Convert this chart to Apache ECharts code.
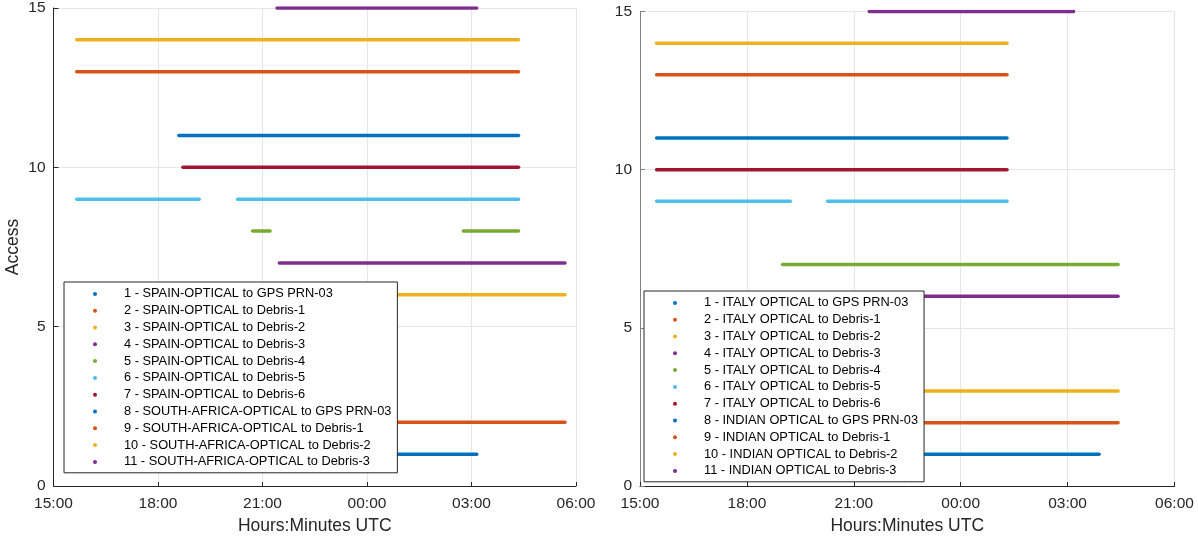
<!DOCTYPE html>
<html>
<head>
<meta charset="utf-8">
<script src="https://cdn.jsdelivr.net/npm/echarts@6/dist/echarts.min.js"></script>
<style>
  html, body { margin: 0; padding: 0; background: #fff; }
  #chart { width: 1198px; height: 540px; }
</style>
</head>
<body>
<div id="chart"></div>
<script>
// Access windows (UTC, start/end) for each station-to-object link, with the access level they are plotted at.
const leftNames = [
  '1 - SPAIN-OPTICAL to GPS PRN-03',
  '2 - SPAIN-OPTICAL to Debris-1',
  '3 - SPAIN-OPTICAL to Debris-2',
  '4 - SPAIN-OPTICAL to Debris-3',
  '5 - SPAIN-OPTICAL to Debris-4',
  '6 - SPAIN-OPTICAL to Debris-5',
  '7 - SPAIN-OPTICAL to Debris-6',
  '8 - SOUTH-AFRICA-OPTICAL to GPS PRN-03',
  '9 - SOUTH-AFRICA-OPTICAL to Debris-1',
  '10 - SOUTH-AFRICA-OPTICAL to Debris-2',
  '11 - SOUTH-AFRICA-OPTICAL to Debris-3'
];
const leftLevels = [11, 13, 14, 15, 8, 9, 10, 1, 2, 6, 7];
const leftWindows = [
  [['18:36', '04:21']],
  [['15:40', '04:21']],
  [['15:40', '04:21']],
  [['21:25', '03:09']],
  [['20:43', '21:13'], ['02:46', '04:21']],
  [['15:40', '19:11'], ['20:17', '04:21']],
  [['18:43', '04:21']],
  [['21:25', '03:09']],
  [['21:29', '05:41']],
  [['21:29', '05:41']],
  [['21:29', '05:41']]
];

const rightNames = [
  '1 - ITALY OPTICAL to GPS PRN-03',
  '2 - ITALY OPTICAL to Debris-1',
  '3 - ITALY OPTICAL to Debris-2',
  '4 - ITALY OPTICAL to Debris-3',
  '5 - ITALY OPTICAL to Debris-4',
  '6 - ITALY OPTICAL to Debris-5',
  '7 - ITALY OPTICAL to Debris-6',
  '8 - INDIAN OPTICAL to GPS PRN-03',
  '9 - INDIAN OPTICAL to Debris-1',
  '10 - INDIAN OPTICAL to Debris-2',
  '11 - INDIAN OPTICAL to Debris-3'
];
const rightLevels = [11, 13, 14, 15, 7, 9, 10, 1, 2, 3, 6];
const rightWindows = [
  [['15:28', '01:18']],
  [['15:28', '01:18']],
  [['15:28', '01:18']],
  [['21:26', '03:10']],
  [['19:00', '04:25']],
  [['15:28', '19:13'], ['20:16', '01:18']],
  [['15:28', '01:18']],
  [['21:26', '03:53']],
  [['19:00', '04:25']],
  [['19:00', '04:25']],
  [['21:26', '04:25']]
];

const xTickLabels = ['15:00', '18:00', '21:00', '00:00', '03:00', '06:00'];
const yTicks = [0, 5, 10, 15];

const palette = ['#0072BD', '#D95319', '#EDB120', '#7E2F8E', '#77AC30', '#4DBEEE', '#A2142F'];
const FONT = '"Liberation Sans", Arial, Helvetica, sans-serif';
const TEXT = '#262626';

// x axis runs in minutes after 15:00 UTC, through midnight to 06:00
function toMinutes(hhmm) {
  const [h, m] = hhmm.split(':').map(Number);
  let t = h * 60 + m - 15 * 60;
  if (t < 0) t += 24 * 60;
  return t;
}

function buildSeries(names, levels, windows, axisIndex) {
  return names.map((name, i) => {
    const data = [];
    windows[i].forEach((w, k) => {
      if (k > 0) data.push(['-', '-']);
      data.push([toMinutes(w[0]), levels[i]]);
      data.push([toMinutes(w[1]), levels[i]]);
    });
    return {
      name: name,
      type: 'line',
      xAxisIndex: axisIndex,
      yAxisIndex: axisIndex,
      data: data,
      showSymbol: false,
      symbol: 'none',
      connectNulls: false,
      color: palette[i % palette.length],
      lineStyle: { width: 3.5, cap: 'round', color: palette[i % palette.length] },
      emphasis: { disabled: true },
      animation: false,
      z: 2
    };
  });
}

function xAxis(gridIndex) {
  return {
    type: 'value', gridIndex: gridIndex, min: 0, max: 900, interval: 180,
    name: 'Hours:Minutes UTC', nameLocation: 'middle', nameGap: 31,
    nameTextStyle: { fontFamily: FONT, fontSize: 17.5, color: TEXT },
    axisLine: { show: true, onZero: false, lineStyle: { color: TEXT, width: 1 } },
    axisTick: { show: true, inside: true, length: 4, lineStyle: { color: TEXT } },
    axisLabel: {
      fontFamily: FONT, fontSize: 15.5, color: TEXT, margin: 10,
      formatter: v => xTickLabels[Math.round(v / 180)]
    },
    splitLine: { show: true, lineStyle: { color: '#e6e6e6', width: 1 } }
  };
}

function yAxis(gridIndex, title, lineColor) {
  return {
    type: 'value', gridIndex: gridIndex, min: 0, max: 15, interval: 5,
    name: title, nameLocation: 'middle', nameGap: 31, nameRotate: 90,
    nameTextStyle: { fontFamily: FONT, fontSize: 17.5, color: TEXT },
    axisLine: { show: true, onZero: false, lineStyle: { color: lineColor, width: 1 } },
    axisTick: { show: true, inside: true, length: 5, lineStyle: { color: lineColor } },
    axisLabel: {
      fontFamily: FONT, fontSize: 15.5, color: TEXT, margin: 8,
      formatter: v => (yTicks.indexOf(v) >= 0 ? String(v) : '')
    },
    splitLine: { show: true, lineStyle: { color: '#e6e6e6', width: 1 } }
  };
}

function legend(names, left, top) {
  return {
    data: names,
    orient: 'vertical',
    left: left, top: top,
    icon: 'circle',
    itemWidth: 4, itemHeight: 4,
    itemGap: 3,
    padding: [5, 6, 4, 29],
    backgroundColor: '#ffffff',
    borderColor: TEXT,
    borderWidth: 1,
    borderRadius: 0,
    selectedMode: false,
    textStyle: {
      fontFamily: FONT, fontSize: 12.8, color: '#000', lineHeight: 13.8,
      padding: [0, 0, 0, 22]
    },
    z: 10
  };
}

const chart = echarts.init(document.getElementById('chart'), null, { renderer: 'canvas' });
chart.setOption({
  animation: false,
  backgroundColor: '#ffffff',
  grid: [
    { left: 53.5, right: 622, top: 7.5, bottom: 54, containLabel: false },
    { left: 640, right: 23.5, top: 11.5, bottom: 53.5, containLabel: false }
  ],
  xAxis: [xAxis(0), xAxis(1)],
  yAxis: [yAxis(0, 'Access', TEXT), yAxis(1, '', '#7f7f7f')],
  legend: [legend(leftNames, 64, 282), legend(rightNames, 644, 291)],
  series: buildSeries(leftNames, leftLevels, leftWindows, 0)
    .concat(buildSeries(rightNames, rightLevels, rightWindows, 1))
});
</script>
</body>
</html>
